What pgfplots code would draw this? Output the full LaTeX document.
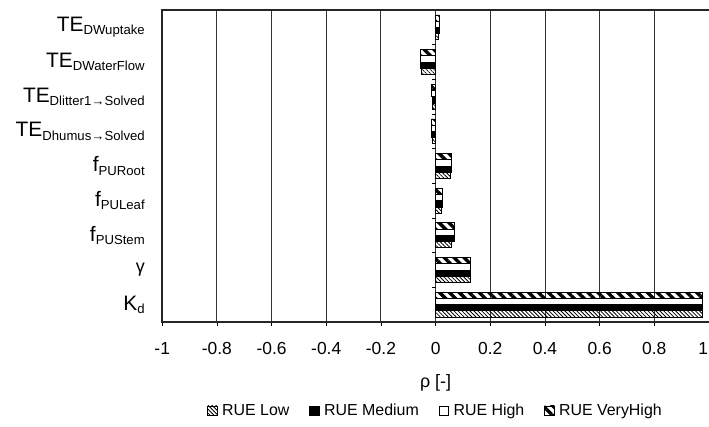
\documentclass[border=0pt]{standalone}
\usepackage{pgfplots}
\pgfplotsset{compat=1.18}
\usepackage{fontspec}
\setmainfont{Liberation Sans}
\usetikzlibrary{patterns.meta}

% label with a lowered, smaller subscript
\newcommand{\lbl}[2]{{\fontsize{21}{23}\selectfont #1}\raisebox{-3.2bp}{\fontsize{13.2}{14}\selectfont #2}}

% Spearman coefficients, one table per RUE level (value, parameter index)
\pgfplotstableread{
rho     y
0.975   0
0.126   1
0.056   2
0.020   3
0.055   4
-0.013  5
-0.012  6
-0.053  7
0.010   8
}\rueLow
\pgfplotstableread{
rho     y
0.975   0
0.126   1
0.067   2
0.026   3
0.059   4
-0.014  5
-0.013  6
-0.057  7
0.015   8
}\rueMedium
\pgfplotstableread{
rho     y
0.975   0
0.126   1
0.067   2
0.026   3
0.059   4
-0.015  5
-0.015  6
-0.057  7
0.012   8
}\rueHigh
\pgfplotstableread{
rho     y
0.975   0
0.126   1
0.067   2
0.026   3
0.059   4
-0.015  5
-0.015  6
-0.057  7
0.014   8
}\rueVeryHigh

\begin{document}
\begin{tikzpicture}
\begin{axis}[
  name=ax,
  scale only axis,
  width=547bp, height=312bp,
  xbar, bar width=0.18,
  xmin=-1, xmax=1,
  ymin=-0.5, ymax=8.5,
  xtick={-1,-0.8,-0.6,-0.4,-0.2,0,0.2,0.4,0.6,0.8,1},
  xticklabels={-1,-0.8,-0.6,-0.4,-0.2,0,0.2,0.4,0.6,0.8,\makebox[0pt][r]{1\hspace{1bp}}},
  ytick={0,...,8},
  yticklabels={
    \lbl{K}{d},
    {\fontsize{18}{20}\selectfont γ},
    \lbl{f}{PUStem},
    \lbl{f}{PULeaf},
    \lbl{f}{PURoot},
    \lbl{TE}{Dhumus→Solved},
    \lbl{TE}{Dlitter1→Solved},
    \lbl{TE}{DWaterFlow},
    \lbl{TE}{DWuptake}},
  ticklabel style={font=\fontsize{17.5}{20}\selectfont},
  yticklabel style={xshift=-10bp},
  xticklabel style={yshift=-13bp},
  tick align=outside,
  xtick pos=bottom, ytick pos=left,
  major tick length=4bp,
  ytick style={draw=none},
  xtick style={black, line width=0.8bp},
  xmajorgrids,
  major grid style={black!80, line width=0.9bp},
  axis line style={draw=none},
  xlabel={ρ [-]},
  every axis x label/.style={at={(axis description cs:0.5,0)}, anchor=center,
    yshift=-61bp, font=\fontsize{18}{20}\selectfont},
  legend columns=4,
  legend style={at={(axis description cs:0.5,-0.285)}, anchor=center, draw=none,
    font=\fontsize{16}{18}\selectfont,
    /tikz/every odd column/.append style={column sep=2.5bp},
    /tikz/every even column/.append style={column sep=18bp}},
  legend image code/.code={\draw[#1, line width=0.6bp] (0bp,-4.8bp) rectangle (9.6bp,4.8bp);},
  clip=false,
]
\addplot[draw=black, line width=0.6bp, bar shift=-0.27,
  pattern={Lines[angle=-45, distance=2.8bp, line width=0.8bp]}]
  table[x=rho, y=y] {\rueLow};
\addlegendentry{RUE Low}
\addplot[draw=black, line width=0.6bp, fill=black, bar shift=-0.09]
  table[x=rho, y=y] {\rueMedium};
\addlegendentry{RUE Medium}
\addplot[draw=black, line width=0.6bp, fill=white, bar shift=0.09]
  table[x=rho, y=y] {\rueHigh};
\addlegendentry{RUE High}
\addplot[draw=black, line width=0.6bp, bar shift=0.27,
  pattern={Lines[angle=-45, distance=7bp, line width=3.4bp]}]
  table[x=rho, y=y] {\rueVeryHigh};
\addlegendentry{RUE VeryHigh}
% frame: heavy left, top and bottom rules
\draw[black!85, line width=2bp, line cap=rect]
  (rel axis cs:1,1) -- (rel axis cs:0,1) -- (rel axis cs:0,0) -- (rel axis cs:1,0);
% category separators on the zero line
\pgfplotsinvokeforeach{0.5,1.5,...,7.5}{
  \draw[black, line width=0.8bp] (axis cs:0,#1) -- ++(-4bp,0bp);
}
\end{axis}
\pgfresetboundingbox
\useasboundingbox ([shift={(-162.3bp,-105bp)}]ax.south west)
  rectangle ([shift={(0bp,10bp)}]ax.north east);
\end{tikzpicture}
\end{document}
